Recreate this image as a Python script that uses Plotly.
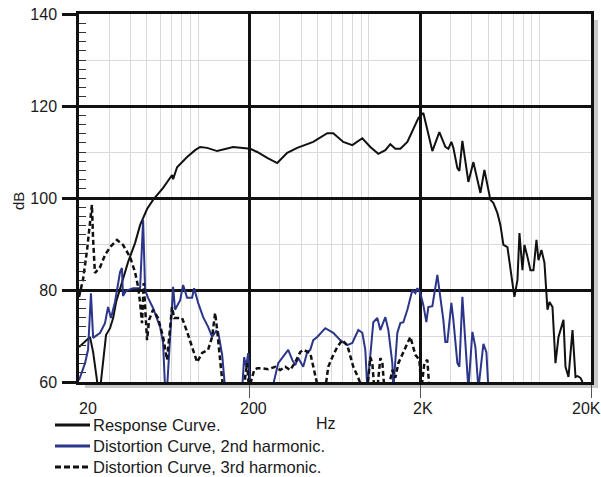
import math
import plotly.graph_objects as go

# ---------------- data (Hz, dB) ----------------
resp_hz = [20.0, 23.2, 24.2, 25.2, 25.9, 26.6, 27.7, 28.8, 30.4, 31.7, 33.0, 35.3, 38.8, 42.6, 45.6,
           50.1, 54.3, 62.2, 70.2, 71.2, 75.1, 86.0, 95.8, 102.5, 112.7, 129.0, 160.1, 201.4,
           221.4, 253.4, 290.0, 332.0, 380.0, 471.6, 569.8, 617.9, 707.2, 798.7, 914.2, 1018.5,
           1134.7, 1247.3, 1334.3, 1427.6, 1527.3, 1678.8, 1820.4, 1947.6, 2083, 2140, 2352,
           2585, 2803, 2919, 3040, 3123, 3297, 3387, 3527, 3825, 4092, 4498, 4747, 5148, 5361,
           5659, 5892, 6136, 6477, 7023, 7119, 7414, 7617, 7932, 8148, 8486, 8836, 9201, 9582,
           9844, 10252, 10675, 11117, 11422, 11894, 12386, 12898, 13798, 14177, 14763, 15582,
           16227, 16671, 17360, 17836]
resp_db = [67.6, 69.8, 66.5, 61.5, 58.5, 58.5, 64.8, 70.2, 71.7, 73.9, 77.4, 81.1, 86.1, 90.2, 94.1,
           97.6, 99.6, 102.2, 105.0, 104.1, 106.7, 108.9, 110.4, 111.1, 110.9, 110.2, 111.1, 110.7,
           110.0, 108.7, 107.6, 109.8, 110.9, 112.2, 114.1, 114.1, 112.2, 111.5, 113.0, 111.1,
           109.6, 110.4, 111.7, 110.7, 110.7, 112.2, 115.2, 117.4, 118.5, 116.5, 110.2,
           114.3, 111.1, 110.7, 112.2, 110.9, 106.5, 105.9, 112.4, 103.5, 107.8, 101.1, 106.1, 99.6, 98.9,
           96.7, 94.1, 89.8, 89.3, 80.0, 78.5, 82.2, 92.4, 84.3, 89.8, 87.2, 84.3, 84.3, 90.9,
           86.5, 88.7, 85.9, 75.7, 77.4, 76.3, 64.1, 69.8, 73.5, 63.3, 61.1, 71.3,
           61.1, 61.3, 60.9, 60.0]

h2_hz = [20.0, 21.7, 22.6, 23.5, 24.2, 26.6, 28.4, 29.6, 30.8, 32.5, 34.8, 35.7, 36.2, 37.7, 41.5,
         45.6, 47.5, 48.8, 50.8, 54.3, 59.7, 62.2, 63.9, 65.6, 71.2, 73.1, 78.3, 81.5, 86.0, 92.0,
         94.5, 99.8, 106.8, 114.2, 120.5, 127.3, 130.7, 138.0, 143.7, 180.8, 185.7, 190.8, 196.0,
         198.0, 204.1, 271.1, 294.0, 323.1, 336.5, 355.2, 369.9, 385.2, 412.0, 434.9, 452.9, 471.6,
         497.8, 554.6, 617.9, 679.2, 746.6, 798.7, 866.1, 914.2, 952.0, 978.1, 1018.5, 1060.5,
         1119.5, 1165.8, 1247.3, 1298.8, 1370.9, 1389.5, 1466.7, 1527.3, 1590.4, 1678.8, 1796.0,
         1870.3, 1921.6, 2000, 2083, 2169, 2228, 2352, 2516, 2620, 2728, 2803, 2880, 3040, 3123,
         3297, 3387, 3527, 3673, 3825, 4037, 4204, 4378, 4683, 4877, 5011]
h2_db = [60.4, 64.1, 67.0, 79.3, 69.6, 70.7, 72.8, 76.3, 73.9, 77.4, 83.9, 84.8, 78.7, 79.8, 80.4,
         80.4, 95.2, 80.0, 78.3, 76.1, 72.0, 68.5, 58.5, 58.5, 80.7, 75.7, 77.8, 81.1, 78.3, 78.3,
         80.4, 77.2, 74.1, 72.0, 69.8, 71.1, 70.9, 65.9, 58.5, 58.5, 65.4, 63.3, 66.3,
         63.3, 58.5, 58.5, 64.1, 66.3, 67.0, 64.8, 63.7, 65.2, 63.3, 66.5, 67.0, 69.1,
         69.8, 71.7, 70.7, 69.1, 68.0, 68.5, 71.3, 70.7, 67.0, 58.5, 65.4, 73.0,
         73.9, 71.3, 74.1, 71.3, 64.1, 58.5, 70.7, 72.8, 73.0, 75.7, 80.0,
         79.3, 80.4, 79.3, 76.7, 73.0, 76.3, 76.5, 83.3, 78.5, 73.5, 68.7, 68.7, 77.2, 73.5,
         64.1, 63.3, 78.5, 69.1, 58.5, 70.9, 67.6, 58.5, 68.3, 66.5, 58.5]

h3_hz = [20.0, 21.1, 22.3, 23.2, 23.8, 24.2, 24.8, 26.6, 28.4, 30.4, 33.4, 36.2, 39.8, 42.6, 44.4,
         45.6, 46.8, 47.9, 50.1, 51.5, 54.3, 58.1, 62.2, 65.6, 66.5, 70.2, 72.2, 75.1, 80.4, 86.0,
         92.0, 98.4, 105.3, 114.2, 120.5, 125.5, 129.0, 132.5, 136.1, 139.9, 185.7, 188.3, 193.4,
         198.0, 206.9, 212.6, 221.4, 236.8, 256.8, 282.3, 302.0, 323.1, 345.7, 369.9, 395.7, 412.0,
         452.9, 471.6, 504.6, 554.6, 577.6, 609.6, 652.2, 697.8, 746.6, 809.5, 866.1, 914.2, 978.1,
         1018.5, 1046.4, 1075.0, 1119.5, 1165.8, 1197.7, 1230.5, 1298.8, 1370.9, 1427.6, 1486.6,
         1634.1, 1748.2, 1870.3, 1974.2, 2028, 2111, 2198, 2259]
h3_db = [78.5, 82.2, 88.7, 95.2, 98.5, 90.9, 83.7, 85.0, 87.6, 89.3, 90.9, 89.8, 87.2, 83.9, 80.7,
         77.2, 72.8, 81.5, 69.1, 73.5, 75.7, 73.9, 69.8, 64.8, 67.0, 76.3, 73.9, 73.9, 73.9, 70.9,
         67.6, 64.3, 66.3, 67.0, 69.8, 75.0, 71.3, 66.3, 62.6, 58.5, 58.5, 61.1, 64.1,
         58.5, 61.1, 62.6, 63.0, 63.0, 62.8, 63.3, 62.6, 63.3, 62.6, 64.3, 66.5, 67.0,
         66.3, 63.5, 58.5, 58.5, 63.3, 65.4, 67.6, 69.1, 68.0, 63.3, 60.9, 58.5, 58.5,
         65.4, 64.1, 58.5, 58.5, 65.2, 64.3, 58.5, 58.5, 62.6, 60.9, 64.1,
         67.6, 69.8, 65.9, 64.8, 58.5, 64.1, 64.8, 58.5]

x_tick_vals = [20, 200, 2000, 20000]
x_tick_text = ["20", "200", "2K", "20K"]
x_minor_vals = [m * d for d in (10, 100, 1000) for m in range(3, 11)]
y_tick_vals = [60, 80, 100, 120, 140]
y_minor_grid = [70, 90, 110, 130]
y_small_ticks = [v for v in range(62, 140, 2) if v % 20 != 0]

series_names = ["Response Curve.", "Distortion Curve, 2nd harmonic.", "Distortion Curve, 3rd harmonic."]

# ---------------- styles / layout constants ----------------
W, H = 601, 477
L, R, T, B = 79, 591, 14, 382      # plot frame in window pixels
PW, PH = R - L, B - T
BLUE = "#2b3589"
FONT = "Liberation Sans, Arial, sans-serif"


def px(xp):
    return (xp - L) / PW


def py(yp):
    return (B - yp) / PH


fig = go.Figure()
fig.add_trace(go.Scatter(x=resp_hz, y=resp_db, mode="lines", name=series_names[0],
                         line=dict(color="#111111", width=2), showlegend=False))
fig.add_trace(go.Scatter(x=h2_hz, y=h2_db, mode="lines", name=series_names[1],
                         line=dict(color=BLUE, width=2), showlegend=False))
fig.add_trace(go.Scatter(x=h3_hz, y=h3_db, mode="lines", name=series_names[2],
                         line=dict(color="#111111", width=2.5, dash="5px,3px"), showlegend=False))
# carrier for the small inner ticks axis
fig.add_trace(go.Scatter(x=[None], y=[None], yaxis="y2", showlegend=False, hoverinfo="skip"))

fig.update_layout(
    width=W, height=H,
    margin=dict(l=L, r=W - R, t=T, b=H - B, pad=0, autoexpand=False),
    paper_bgcolor="white", plot_bgcolor="white",
    font=dict(family=FONT, size=16, color="#1a1a1a"),
    xaxis=dict(
        type="log", range=[math.log10(20), math.log10(20000)],
        tickmode="array", tickvals=x_tick_vals[1:], showticklabels=False,
        ticks="outside", ticklen=13, tickwidth=1, tickcolor="#555555",
        showgrid=True, gridcolor="#111111", gridwidth=2.5,
        showline=True, linecolor="#111111", linewidth=2.5, mirror=True,
        minor=dict(tickmode="array", tickvals=x_minor_vals, showgrid=True,
                   gridcolor="#dadada", gridwidth=1, ticks=""),
        zeroline=False, automargin=False,
    ),
    yaxis=dict(
        range=[60, 140], tickmode="array", tickvals=y_tick_vals,
        ticks="outside", ticklen=14, tickwidth=2.5, tickcolor="#111111",
        ticklabelstandoff=2, ticklabeloverflow="allow",
        showgrid=True, gridcolor="#111111", gridwidth=2.5,
        showline=True, linecolor="#111111", linewidth=2.5, mirror=True,
        minor=dict(tickmode="array", tickvals=y_minor_grid, showgrid=True,
                   gridcolor="#dadada", gridwidth=1, ticks=""),
        zeroline=False, automargin=False,
    ),
    yaxis2=dict(
        overlaying="y", side="left", anchor="x", range=[60, 140],
        tickmode="array", tickvals=y_small_ticks, ticks="inside", ticklen=7,
        tickwidth=1, tickcolor="#333333", showticklabels=False,
        showgrid=False, showline=False, zeroline=False, automargin=False,
    ),
)

# drop shadow around the plot frame
fig.add_shape(type="rect", xref="paper", yref="paper", x0=px(R + 1), x1=px(R + 7),
              y0=py(B + 6), y1=py(T + 6), fillcolor="#c9c9c9", line_width=0, layer="below")
fig.add_shape(type="rect", xref="paper", yref="paper", x0=px(L + 6), x1=px(R + 7),
              y0=py(B + 6), y1=py(B + 1), fillcolor="#c9c9c9", line_width=0, layer="below")

# x tick labels
label_shift = [9, 4, 3, -5]
for v, t, s in zip(x_tick_vals, x_tick_text, label_shift):
    fig.add_annotation(x=math.log10(v), xref="x", y=0, yref="paper", text=t, showarrow=False,
                       xanchor="center", yanchor="middle", xshift=s, yshift=-26,
                       font=dict(size=16))

# axis titles
fig.add_annotation(x=px(326), xref="paper", y=0, yref="paper", text="Hz", showarrow=False,
                   xanchor="center", yanchor="middle", yshift=-41, font=dict(size=16))
fig.add_annotation(x=px(18), xref="paper", y=py(201), yref="paper", text="dB", showarrow=False,
                   xanchor="center", yanchor="middle", textangle=-90, font=dict(size=15))

# legend
leg_rows = [425, 446, 467]
leg_styles = [dict(color="#111111", width=3), dict(color=BLUE, width=3),
              dict(color="#111111", width=3, dash="6px,3px")]
for name, yrow, st in zip(series_names, leg_rows, leg_styles):
    fig.add_shape(type="line", xref="paper", yref="paper", x0=px(55), x1=px(90),
                  y0=py(yrow), y1=py(yrow), line=st)
    fig.add_annotation(x=px(91), xref="paper", y=py(yrow), yref="paper", text=name,
                       showarrow=False, xanchor="left", yanchor="middle", font=dict(size=16.5))

fig.write_html("out.html", config={"displayModeBar": False},
               post_script="document.body.style.margin = '0px';")
